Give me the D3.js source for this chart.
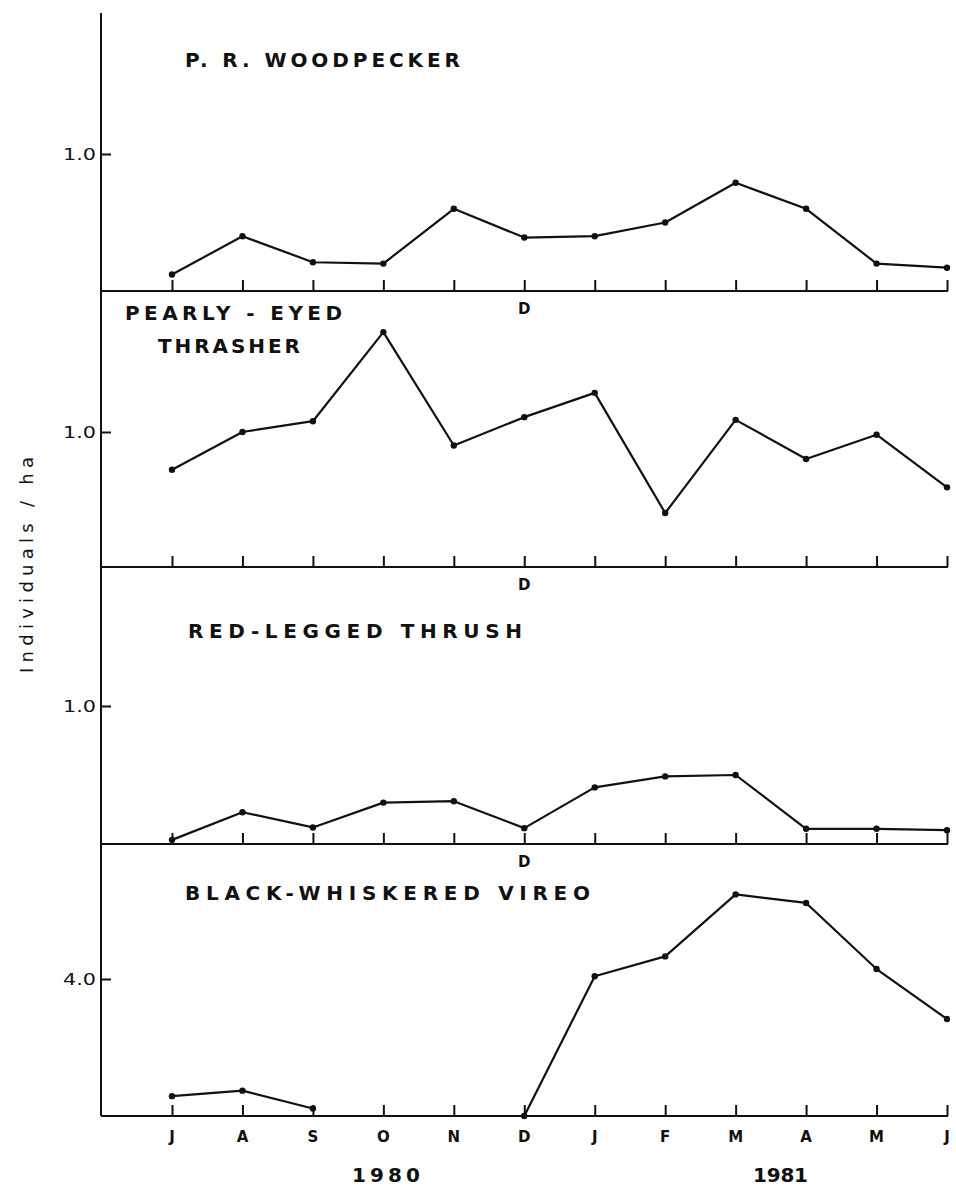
<!DOCTYPE html>
<html>
<head>
<meta charset="utf-8">
<script src="https://cdn.jsdelivr.net/npm/d3@7/dist/d3.min.js"></script>
<style>
  html, body { margin: 0; padding: 0; background: #fff; }
  svg { display: block; }
  text { font-family: "DejaVu Sans", "Liberation Sans", sans-serif; fill: #111; }
</style>
</head>
<body>
<svg id="chart" width="956" height="1190"></svg>
<script>
// ---- data ----
const months = ["J","A","S","O","N","D","J","F","M","A","M","J"];
const years = ["1980", "1981"];
const woodpecker = [0.12, 0.40, 0.21, 0.20, 0.60, 0.39, 0.40, 0.50, 0.79, 0.60, 0.20, 0.17];
const thrasher   = [0.72, 1.00, 1.08, 1.74, 0.90, 1.11, 1.29, 0.40, 1.09, 0.80, 0.98, 0.59];
const thrush     = [0.03, 0.23, 0.12, 0.30, 0.31, 0.115, 0.41, 0.49, 0.50, 0.11, 0.11, 0.10];
const vireo      = [0.58, 0.74, 0.22, null, null, 0, 4.08, 4.66, 6.47, 6.22, 4.29, 2.83];
const titleLines = [["P. R. WOODPECKER"], ["PEARLY - EYED", "THRASHER"], ["RED-LEGGED THRUSH"], ["BLACK-WHISKERED VIREO"]];
const yTickValues = [1.0, 1.0, 1.0, 4.0];
const yMax = [2, 2, 2, 8];
const seriesList = [woodpecker, thrasher, thrush, vireo];
const yLabel = "Individuals / ha";

// ---- layout ----
const axisX = 101;
const axisTop = 13;
const panels = [
  { base: 291, top: 17,  titles: [{x: 185, y: 67, w: 275}] },
  { base: 567, top: 297, titles: [{x: 125, y: 320, w: 217}, {x: 158, y: 353, w: 142}] },
  { base: 844, top: 568, titles: [{x: 188, y: 638, w: 334}] },
  { base: 1116, top: 842, titles: [{x: 185, y: 900, w: 405}] }
];

const svg = d3.select("#chart");
const x = d3.scaleLinear().domain([0, months.length - 1]).range([172, 947]);

// vertical axis line
svg.append("line")
  .attr("x1", axisX).attr("x2", axisX)
  .attr("y1", axisTop).attr("y2", panels[3].base)
  .attr("stroke", "#111").attr("stroke-width", 2);

panels.forEach((p, i) => {
  const y = d3.scaleLinear().domain([0, yMax[i]]).range([p.base, p.top]);
  const data = seriesList[i];

  // baseline
  svg.append("line")
    .attr("x1", axisX).attr("x2", x(months.length - 1) + 1)
    .attr("y1", p.base).attr("y2", p.base)
    .attr("stroke", "#111").attr("stroke-width", 2);

  // month ticks pointing up
  const xa = svg.append("g")
    .attr("transform", `translate(0,${p.base})`)
    .call(d3.axisTop(x).tickValues(d3.range(months.length)).tickSize(11).tickFormat(""));
  xa.select(".domain").remove();
  xa.selectAll(".tick line").attr("stroke", "#111").attr("stroke-width", 2);

  // D label under D tick (panels 1-3)
  if (i < 3) {
    svg.append("text")
      .attr("x", x(5)).attr("y", p.base + 23)
      .attr("text-anchor", "middle")
      .attr("font-size", 15).attr("font-weight", "bold")
      .text(months[5]);
  }

  // y tick
  const ya = svg.append("g")
    .attr("transform", `translate(${axisX},0)`)
    .call(d3.axisLeft(y).tickValues([yTickValues[i]]).tickSizeInner(-10).tickSizeOuter(0).tickPadding(5)
      .tickFormat(d3.format(".1f")));
  ya.select(".domain").remove();
  ya.selectAll(".tick line").attr("stroke", "#111").attr("stroke-width", 2);
  ya.selectAll(".tick text")
    .attr("font-family", "DejaVu Sans, sans-serif")
    .attr("font-size", 16).attr("fill", "#111")
    .attr("textLength", 33).attr("lengthAdjust", "spacingAndGlyphs");

  // titles
  titleLines[i].forEach((t, k) => {
    const tp = p.titles[k];
    svg.append("text")
      .attr("x", tp.x).attr("y", tp.y)
      .attr("font-size", 20).attr("font-weight", "bold")
      .attr("textLength", tp.w).attr("lengthAdjust", "spacing")
      .text(t);
  });

  // line
  const line = d3.line()
    .defined(d => d != null)
    .x((d, j) => x(j))
    .y(d => y(d));
  svg.append("path")
    .datum(data)
    .attr("d", line)
    .attr("fill", "none")
    .attr("stroke", "#111")
    .attr("stroke-width", 2.2)
    .attr("stroke-linejoin", "round");

  // points
  svg.append("g").selectAll("circle")
    .data(data.map((v, j) => ({v, j})).filter(d => d.v != null))
    .join("circle")
    .attr("cx", d => x(d.j))
    .attr("cy", d => y(d.v))
    .attr("r", 3.2)
    .attr("fill", "#111");
});

// month labels at bottom
svg.append("g").selectAll("text")
  .data(months)
  .join("text")
  .attr("x", (d, j) => x(j))
  .attr("y", panels[3].base + 26)
  .attr("text-anchor", "middle")
  .attr("font-size", 15)
  .attr("font-weight", "bold")
  .text(d => d);

// years
const yearPos = [{x: 352, w: 68}, {x: 753, w: 55}];
years.forEach((yr, k) => {
  svg.append("text")
    .attr("x", yearPos[k].x).attr("y", 1182)
    .attr("font-size", 20).attr("font-weight", "bold")
    .attr("textLength", yearPos[k].w).attr("lengthAdjust", "spacing")
    .text(yr);
});

// y-axis label
svg.append("text")
  .attr("transform", "translate(33,565) rotate(-90)")
  .attr("text-anchor", "middle")
  .attr("font-size", 18)
  .attr("textLength", 216).attr("lengthAdjust", "spacing")
  .text(yLabel);
</script>
</body>
</html>
